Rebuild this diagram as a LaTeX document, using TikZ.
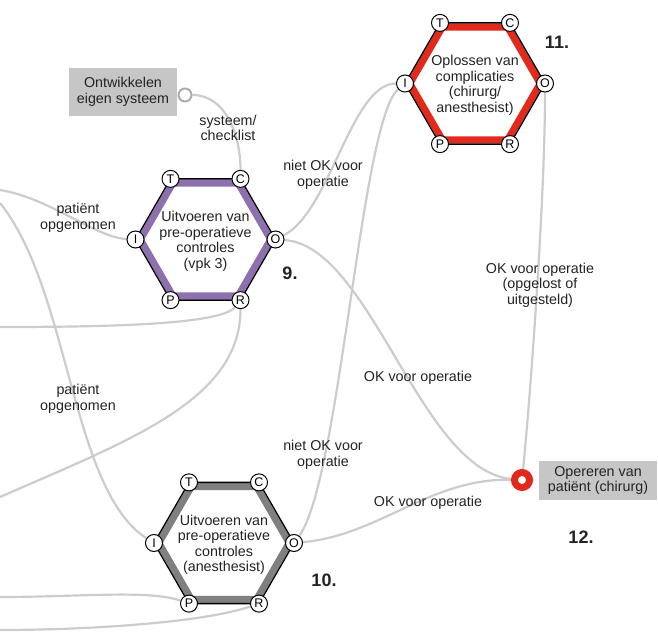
\documentclass[tikz,border=0pt]{standalone}
\usepackage{fontspec}
\setmainfont{Liberation Sans}
\usetikzlibrary{backgrounds}

\definecolor{vpkpurple}{RGB}{142, 112, 175}
\definecolor{chirred}{RGB}{226, 42, 28}
\definecolor{anesgray}{RGB}{128, 128, 128}
\definecolor{linkgray}{RGB}{204, 204, 204}
\definecolor{boxgray}{RGB}{198, 198, 198}
\definecolor{inkgray}{RGB}{35, 35, 35}

\tikzset{
  link/.style={draw=linkgray, line width=2.2pt},
  port/.style={circle, draw=black, fill=white, line width=1pt, minimum size=17pt, inner sep=0pt, font=\fontsize{12.5}{12.5}\selectfont},
  proctext/.style={align=center, text=inkgray, font=\fontsize{14.3}{15.5}\selectfont},
  lbl/.style={align=center, text=inkgray, font=\fontsize{14.3}{15.5}\selectfont},
  stepnum/.style={text=inkgray, font=\fontsize{18}{20}\selectfont\bfseries},
  graybox/.style={fill=boxgray, align=center, inner sep=0pt, text=inkgray, font=\fontsize{14.3}{15.5}\selectfont}
}

% FRAM function: name, centre x, centre y, colour, text
\newcommand{\framhex}[5]{%
  \begin{scope}[shift={(#2,#3)}]
    \fill[white] (0:70) -- (60:70) -- (120:70) -- (180:70) -- (240:70) -- (300:70) -- cycle;
    \draw[draw=#4, line width=7pt] (0:65.2) -- (60:65.2) -- (120:65.2) -- (180:65.2) -- (240:65.2) -- (300:65.2) -- cycle;
    \draw[line width=1.3pt] (0:70) -- (60:70) -- (120:70) -- (180:70) -- (240:70) -- (300:70) -- cycle;
    \node[proctext] (#1) at (0,2) {#5};
    \foreach \p/\ang in {T/240, C/300, O/0, R/60, P/120, I/180}
      \node[port] (#1-\p) at (\ang:70) {\p};
  \end{scope}}

\begin{document}
\begin{tikzpicture}[x=1pt, y=-1pt]
  \useasboundingbox (0,0) rectangle (658,636);

  % Free ends at the left edge
  \coordinate (in9) at (0,190);
  \coordinate (in10) at (0,203);
  \coordinate (res9) at (0,327);
  \coordinate (res10a) at (0,497);
  \coordinate (pre10) at (0,597);
  \coordinate (res10b) at (0,630);

  % The functions
  \framhex{h9}{205.5}{239.5}{vpkpurple}{Uitvoeren van\\pre-operatieve\\controles\\(vpk 3)}
  \framhex{h11}{475}{83.5}{chirred}{Oplossen van\\complicaties\\(chirurg/\\anesthesist)}
  \framhex{h10}{224}{543}{anesgray}{Uitvoeren van\\pre-operatieve\\controles\\(anesthesist)}

  % Background function
  \node[graybox, minimum width=108pt, minimum height=48pt] (eigen) at (123,92) {Ontwikkelen\\eigen systeem};
  \node[circle, draw=linkgray!85!black, line width=2pt, fill=white, minimum size=13pt, inner sep=0pt] (eigen-out) at (185,95) {};

  % Goal
  \node[circle, draw=chirred, line width=7pt, fill=white, minimum size=15pt, inner sep=0pt] (opereren) at (522,480) {};
  \node[graybox, minimum width=118pt, minimum height=39pt] (opereren-lbl) at (598,480.5) {Opereren van\\patiënt (chirurg)};

  % Step numbers
  \node[stepnum] (num9) at (290,273) {9.};
  \node[stepnum] (num11) at (557,42) {11.};
  \node[stepnum] (num10) at (324,580) {10.};
  \node[stepnum] (num12) at (581,537) {12.};

  % Couplings
  \begin{pgfonlayer}{background}
    \draw[link] (eigen-out) .. controls +(40,0) and +(0,-45) .. (h9-C);
    \draw[link] (in9) .. controls +(50,8) and +(-40,-2) .. (h9-I);
    \draw[link] (in10) .. controls +(70,87) and +(-83,-53) .. (h10-I);
    \draw[link] (h9-R) .. controls +(-20,25) and +(100,0) .. (res9);
    \draw[link] (h9-R) .. controls +(0,100) and +(130,-57) .. (res10a);
    \draw[link] (h10-P) .. controls +(-40,-14) and +(80,0) .. (pre10);
    \draw[link] (h10-R) .. controls +(-60,20) and +(80,0) .. (res10b);
    \draw[link] (h9-O) .. controls +(55,-28) and +(-54,0) .. (h11-I);
    \draw[link] (h10-O) .. controls +(46,-63) and +(-44,37) .. (h11-I);
    \draw[link] (h9-O) .. controls +(95,6) and +(-102,-10) .. (opereren);
    \draw[link] (h10-O) .. controls +(86,-8) and +(-92,-2) .. (opereren);
    \draw[link] (h11-O) .. controls +(0,117) and +(8,-80) .. (opereren);
  \end{pgfonlayer}

  % Coupling labels
  \node[lbl] (lblsys) at (228,128) {systeem/\\checklist};
  \node[lbl] (lblpat9) at (78,218) {patiënt\\opgenomen};
  \node[lbl] (lblpat10) at (78,399) {patiënt\\opgenomen};
  \node[lbl] (lblniet9) at (323,175) {niet OK voor\\operatie};
  \node[lbl] (lblniet10) at (323,455) {niet OK voor\\operatie};
  \node[lbl] (lblok9) at (418,378) {OK voor operatie};
  \node[lbl] (lblok10) at (428,503) {OK voor operatie};
  \node[lbl] (lblok11) at (540,285) {OK voor operatie\\(opgelost of\\uitgesteld)};
\end{tikzpicture}
\end{document}
